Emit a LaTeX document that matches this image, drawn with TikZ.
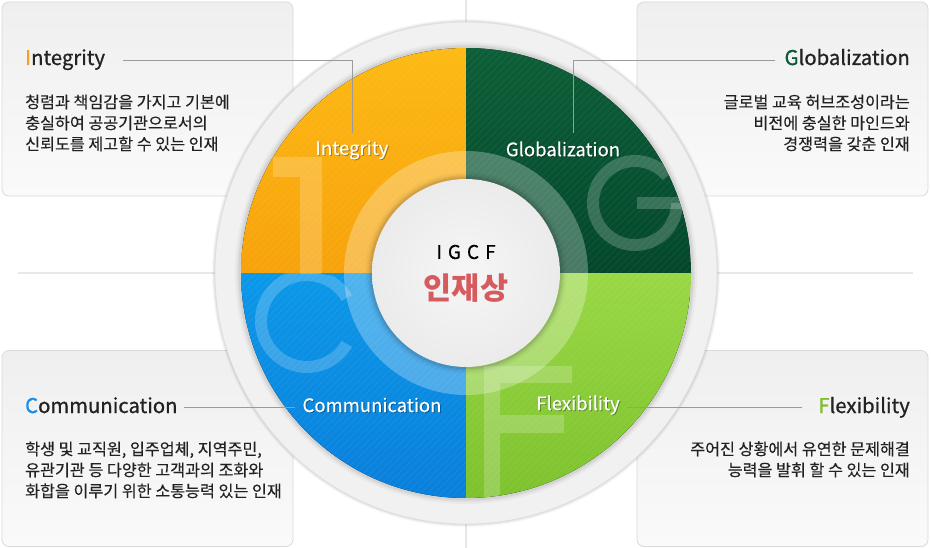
\documentclass[tikz,border=0pt]{standalone}
\usepackage{fontspec}
\setmainfont{Noto Sans CJK KR}
\newfontfamily\ttlfont[FakeBold=0.8]{Noto Sans CJK KR}
\newfontfamily\descfont[FakeBold=0.25]{Noto Sans CJK KR}
\newfontfamily\labfont[FakeBold=0.3]{Noto Sans CJK KR}
\definecolor{boxtop}{HTML}{EFEFEF}
\definecolor{boxbot}{HTML}{FAFAFA}
\definecolor{boxline}{HTML}{D9D9D9}
\definecolor{txt}{HTML}{222222}
\definecolor{leadc}{HTML}{9A9A9A}
\definecolor{bgl}{HTML}{E8E8E8}
\definecolor{ringc}{HTML}{F1F1F1}
\definecolor{ringedge}{HTML}{DEDEDE}
\definecolor{oTop}{HTML}{FDBA14}
\definecolor{oBot}{HTML}{F7A20B}
\definecolor{gTop}{HTML}{0D5F38}
\definecolor{gBot}{HTML}{03472A}
\definecolor{bTop}{HTML}{0B98E8}
\definecolor{bBot}{HTML}{0A7FDC}
\definecolor{lTop}{HTML}{99D844}
\definecolor{lBot}{HTML}{7DC22E}
\definecolor{cI}{HTML}{F2A21E}
\definecolor{cG}{HTML}{0B5A35}
\definecolor{cC}{HTML}{1A8BE6}
\definecolor{cF}{HTML}{7CBD2A}
\definecolor{redc}{HTML}{D65B5E}
\definecolor{innerA}{HTML}{F6F6F6}
\definecolor{innerB}{HTML}{EBEBEB}
\begin{document}
\begin{tikzpicture}[x=1pt,y=-1pt,
  box/.style={draw=boxline, line width=0.8pt, rounded corners=7pt, top color=boxtop, bottom color=boxbot, minimum width=291pt, inner sep=0pt},
  ttl/.style={font=\ttlfont\fontsize{20.3}{20.3}\selectfont, text=txt, inner sep=0pt},
  desc/.style={font=\descfont\fontsize{16.2}{16.2}\selectfont, text=txt, inner sep=0pt},
  qlab/.style={font=\labfont\fontsize{18.5}{18.5}\selectfont, text=white, inner sep=0pt},
  qsh/.style={font=\labfont\fontsize{18.5}{18.5}\selectfont, text=black, text opacity=0.3, inner sep=0pt},
  leader/.style={draw=leadc, line width=0.8pt},
  letter/.style={fill=white, fill opacity=0.2},
  bgline/.style={draw=bgl, line width=1.2pt}]
\useasboundingbox (0,0) rectangle (931,548);
\fill[white] (0,0) rectangle (931,548);
% background cross lines
\coordinate (hl) at (18,273);
\coordinate (hr) at (913,273);
\coordinate (vt) at (466,0);
\coordinate (vb) at (466,548);
\draw[bgline] (hl) -- (hr);
\draw[bgline] (vt) -- (vb);
% boxes
\node[box, minimum height=194pt] (bI) at (147.5,99) {};
\node[box, minimum height=194pt] (bG) at (782.5,99) {};
\node[box, minimum height=196pt] (bC) at (147.5,448.5) {};
\node[box, minimum height=196pt] (bF) at (782.5,448.5) {};
% titles
\node[ttl, anchor=base west] (tI) at (25,65) {\textcolor{cI}{I}ntegrity};
\node[ttl, anchor=base east] (tG) at (910,65) {\textcolor{cG}{G}lobalization};
\node[ttl, anchor=base west] (tC) at (25,413) {\textcolor{cC}{C}ommunication};
\node[ttl, anchor=base east] (tF) at (910,413) {\textcolor{cF}{F}lexibility};
% descriptions
\node[desc, anchor=base west] (dI1) at (25,108) {청렴과 책임감을 가지고 기본에};
\node[desc, anchor=base west] (dI2) at (25,129) {충실하여 공공기관으로서의};
\node[desc, anchor=base west] (dI3) at (25,150) {신뢰도를 제고할 수 있는 인재};
\node[desc, anchor=base east] (dG1) at (910,108) {글로벌 교육 허브조성이라는};
\node[desc, anchor=base east] (dG2) at (910,129) {비전에 충실한 마인드와};
\node[desc, anchor=base east] (dG3) at (910,150) {경쟁력을 갖춘 인재};
\node[desc, anchor=base west] (dC1) at (25,455) {학생 및 교직원, 입주업체, 지역주민,};
\node[desc, anchor=base west] (dC2) at (25,476) {유관기관 등 다양한 고객과의 조화와};
\node[desc, anchor=base west] (dC3) at (25,497) {화합을 이루기 위한 소통능력 있는 인재};
\node[desc, anchor=base east] (dF1) at (910,455) {주어진 상황에서 유연한 문제해결};
\node[desc, anchor=base east] (dF2) at (910,476) {능력을 발휘 할 수 있는 인재};
% outer grey ring
\coordinate (O) at (466,273);
\foreach \r/\op in {254/0.03,253/0.04,252/0.05} \fill[black, opacity=\op] (O) circle (\r pt);
\fill[ringc, draw=ringedge, line width=0.6pt] (O) circle (251pt);
\foreach \r/\op in {231/0.03,229/0.04,227.5/0.05} \fill[black, opacity=\op] (O) circle (\r pt);
% quadrants
\begin{scope}
\clip (O) circle (225pt);
\fill[top color=oTop, bottom color=oBot] (241,48) rectangle (466,273);
\fill[top color=gTop, bottom color=gBot] (466,48) rectangle (691,273);
\fill[top color=bTop, bottom color=bBot] (241,273) rectangle (466,498);
\fill[top color=lTop, bottom color=lBot] (466,273) rectangle (691,498);
% hatching
\foreach \i in {-230,-223,...,700} \draw[white, opacity=0.06, line width=0.9pt] (\i,500) -- ++(452,-452);
% ring around centre
\fill[white, opacity=0.28, even odd rule] (O) circle (122pt) (O) circle (94pt);
% big letters
\begin{scope}
\clip (241,48) rectangle (466,273);
\fill[letter] (273,157) rectangle (322,177) (300,157) rectangle (322,280);
\end{scope}
\begin{scope}
\clip (466,48) rectangle (691,273);
\begin{scope}
\clip (635,203) -- (696,152) -- (696,130) -- (570,130) -- (570,270) -- (700,270) -- (700,203) -- cycle;
\fill[letter, even odd rule] (635,203) circle (48pt) (635,203) circle (36pt);
\end{scope}
\fill[letter] (637,197.5) rectangle (690,208.5);
\end{scope}
\begin{scope}
\clip (241,273) rectangle (466,498);
\clip (307,321) -- (373,283) -- (240,260) -- (240,390) -- (373,359) -- cycle;
\fill[letter, even odd rule] (307,321) circle (52pt) (307,321) circle (40pt);
\end{scope}
\begin{scope}
\clip (466,273) rectangle (691,498);
\fill[letter] (484,366) rectangle (500,510) (484,366) rectangle (572,383) (484,415) rectangle (564,433);
\end{scope}
\end{scope}
% inner circle
\foreach \r/\op in {101/0.025,99/0.035,97.5/0.05,96/0.07} \fill[black, opacity=\op] (O) circle (\r pt);
\shade[inner color=innerA, outer color=innerB] (O) circle (94pt);
% centre texts
\node[inner sep=0pt, font=\descfont\fontsize{19}{19}\selectfont, text=black] (cT) at (466,252) {I\kern6pt G\kern6pt C\kern6pt F};
\node[inner sep=0pt, font=\bfseries\fontsize{30.5}{30.5}\selectfont, text=redc] (cK) at (466,288) {인재상};
% quadrant labels
\node[qsh] (sI) at (353,150.8) {Integrity};
\node[qlab] (lI) at (352,150) {Integrity};
\node[qsh] (sG) at (564,149.8) {Globalization};
\node[qlab] (lG) at (563,149) {Globalization};
\node[qsh] (sC) at (373,405.8) {Communication};
\node[qlab] (lC) at (372,405) {Communication};
\node[qsh] (sF) at (579,405.8) {Flexibility};
\node[qlab] (lF) at (578,405) {Flexibility};
% leaders
\coordinate (aI) at (123,60);
\coordinate (kI) at (352,60);
\coordinate (eI) at (352,133);
\draw[leader] (aI) -- (kI) -- (eI);
\coordinate (aG) at (775,60);
\coordinate (kG) at (573,60);
\coordinate (eG) at (573,133);
\draw[leader] (aG) -- (kG) -- (eG);
\coordinate (aC) at (184,407.5);
\coordinate (eC) at (295,407.5);
\draw[leader] (aC) -- (eC);
\coordinate (aF) at (802,407.5);
\coordinate (eF) at (627,407.5);
\draw[leader] (aF) -- (eF);
\end{tikzpicture}
\end{document}
